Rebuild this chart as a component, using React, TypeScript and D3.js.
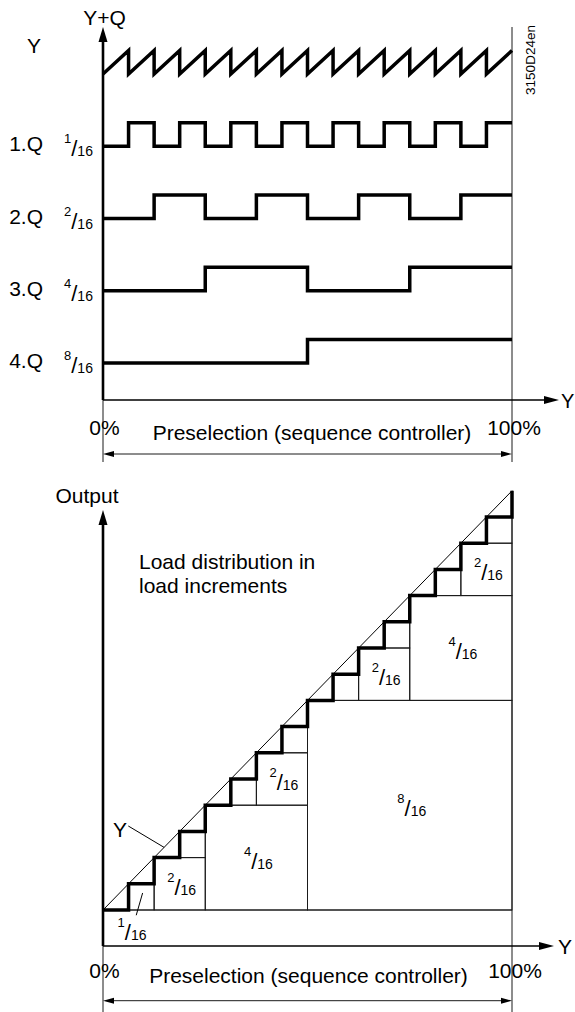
import React from 'react';
import * as d3 from 'd3';

// ---------- data ----------
const sixteenths = [0, 1, 2, 3, 4, 5, 6, 7, 8, 9, 10, 11, 12, 13, 14, 15];
const rowLabels = ['Y', '1.Q', '2.Q', '3.Q', '4.Q'];
const qNumerators = ['1', '2', '4', '8'];
const q1 = [0, 1, 0, 1, 0, 1, 0, 1, 0, 1, 0, 1, 0, 1, 0, 1];
const q2 = [0, 0, 1, 1, 0, 0, 1, 1, 0, 0, 1, 1, 0, 0, 1, 1];
const q3 = [0, 0, 0, 0, 1, 1, 1, 1, 0, 0, 0, 0, 1, 1, 1, 1];
const q4 = [0, 0, 0, 0, 0, 0, 0, 0, 1, 1, 1, 1, 1, 1, 1, 1];
const qSeries = [q1, q2, q3, q4];
const stairOutput = [0, 1, 2, 3, 4, 5, 6, 7, 8, 9, 10, 11, 12, 13, 14, 15];
const boxX = [8, 4, 12, 2, 6, 10, 14, 1, 3, 5, 7, 9, 11, 13, 15];
const boxY = [0, 0, 8, 0, 4, 8, 12, 0, 2, 4, 6, 8, 10, 12, 14];
const boxSize = [8, 4, 4, 2, 2, 2, 2, 1, 1, 1, 1, 1, 1, 1, 1];
const percentLabels = ['0%', '100%'];
const axisTitle = 'Preselection (sequence controller)';
const docCode = '3150D24en';

const FONT = '"Liberation Sans", Arial, Helvetica, sans-serif';

function Frac({ x, y, n, anchor = 'start' }: { x: number; y: number; n: string; anchor?: string }) {
  return (
    <text x={x} y={y} textAnchor={anchor} fontFamily={FONT} fill="#000">
      <tspan fontSize={13} dy={-13}>{n}</tspan>
      <tspan fontSize={22} dy={13}>/</tspan>
      <tspan fontSize={14} dy={0}>16</tspan>
    </text>
  );
}

function ArrowHead({ x, y, dir, len = 15, half = 4.5 }: { x: number; y: number; dir: 'up' | 'right' | 'left'; len?: number; half?: number }) {
  let pts: [number, number][];
  if (dir === 'up') pts = [[x, y], [x - half, y + len], [x + half, y + len]];
  else if (dir === 'right') pts = [[x, y], [x - len, y - half], [x - len, y + half]];
  else pts = [[x, y], [x + len, y - half], [x + len, y + half]];
  return <polygon points={pts.map((p) => p.join(',')).join(' ')} fill="#000" />;
}

export default function App() {
  const x = d3.scaleLinear().domain([0, 16]).range([103, 512]);
  const rowLow = d3.scaleLinear().domain([0, 4]).range([74, 363]);
  const amp = 23.5;
  const yB = d3.scaleLinear().domain([0, 16]).range([910, 490.8]);

  const stepLine = d3.line<[number, number]>().curve(d3.curveStepAfter);
  const linLine = d3.line<[number, number]>();

  // sawtooth (row 0)
  const sawPts: [number, number][] = [];
  sixteenths.forEach((k) => {
    sawPts.push([x(k), rowLow(0)]);
    sawPts.push([x(k + 1), rowLow(0) - amp]);
  });

  const qPaths = qSeries.map((q, i) => {
    const low = rowLow(i + 1);
    const pts: [number, number][] = sixteenths.map((k) => [x(k), low - q[k] * amp]);
    pts.push([x(16), low - q[15] * amp]);
    return stepLine(pts) as string;
  });

  const stairPts: [number, number][] = sixteenths.map((k) => [x(k), yB(stairOutput[k])]);
  stairPts.push([x(16), yB(16)]);

  const axisTopY = 400;
  const axisBotY = 946;
  const thin = '#1a1a1a';

  return (
    <svg width={575} height={1012} style={{ position: 'absolute', left: 0, top: 0, display: 'block', background: '#fff' }}>
      {/* ================= TOP PANEL ================= */}
      <line x1={x(16)} x2={x(16)} y1={27} y2={462} stroke={thin} strokeWidth={1} />
      <line x1={x(0)} x2={x(0)} y1={36} y2={axisTopY} stroke="#000" strokeWidth={2.6} />
      <line x1={x(0)} x2={x(0)} y1={axisTopY} y2={462} stroke={thin} strokeWidth={1} />
      <ArrowHead x={x(0)} y={27} dir="up" />
      <line x1={x(0)} x2={550} y1={axisTopY} y2={axisTopY} stroke="#000" strokeWidth={1.7} />
      <ArrowHead x={559} y={axisTopY} dir="right" half={4} />
      <text x={561} y={axisTopY + 8} fontSize={20} fontFamily={FONT}>Y</text>
      <text x={104.5} y={25} fontSize={21} fontFamily={FONT} textAnchor="middle">Y+Q</text>
      <text transform="translate(535,60) rotate(-90)" fontSize={13.5} fontFamily={FONT} textAnchor="middle">{docCode}</text>

      <text x={34} y={53} fontSize={21} fontFamily={FONT} textAnchor="middle">{rowLabels[0]}</text>
      {qNumerators.map((n, i) => (
        <g key={n}>
          <text x={43} y={rowLow(i + 1) + 5} fontSize={21} fontFamily={FONT} textAnchor="end">{rowLabels[i + 1]}</text>
          <Frac x={64} y={rowLow(i + 1) + 10} n={n} />
        </g>
      ))}

      <path d={linLine(sawPts) as string} fill="none" stroke="#000" strokeWidth={3.5} strokeLinejoin="miter" />
      {qPaths.map((d, i) => (
        <path key={i} d={d} fill="none" stroke="#000" strokeWidth={3.5} strokeLinejoin="miter" />
      ))}

      <text x={104.5} y={435} fontSize={21} fontFamily={FONT} textAnchor="middle">{percentLabels[0]}</text>
      <text x={514} y={435} fontSize={21} fontFamily={FONT} textAnchor="middle">{percentLabels[1]}</text>
      <text x={312} y={440} fontSize={21} fontFamily={FONT} textAnchor="middle">{axisTitle}</text>
      <line x1={x(0) + 8} x2={x(16) - 8} y1={454} y2={454} stroke={thin} strokeWidth={1} />
      <ArrowHead x={x(0)} y={454} dir="left" len={11} half={3} />
      <ArrowHead x={x(16)} y={454} dir="right" len={11} half={3} />

      {/* ================= BOTTOM PANEL ================= */}
      <text x={87} y={503} fontSize={21} fontFamily={FONT} textAnchor="middle">Output</text>
      <text x={139} y={569} fontSize={21} fontFamily={FONT}>Load distribution in</text>
      <text x={139} y={593} fontSize={21} fontFamily={FONT}>load increments</text>

      {boxX.map((bx, i) => (
        <rect
          key={i}
          x={x(bx)}
          y={yB(boxY[i] + boxSize[i])}
          width={x(bx + boxSize[i]) - x(bx)}
          height={yB(boxY[i]) - yB(boxY[i] + boxSize[i])}
          fill="none"
          stroke={thin}
          strokeWidth={1}
        />
      ))}
      {boxX.map((bx, i) =>
        boxSize[i] >= 2 ? (
          <Frac
            key={'l' + i}
            x={(x(bx) + x(bx + boxSize[i])) / 2 + 2}
            y={(yB(boxY[i]) + yB(boxY[i] + boxSize[i])) / 2 + 11}
            n={String(boxSize[i])}
            anchor="middle"
          />
        ) : null
      )}
      <line x1={x(0)} x2={x(16)} y1={yB(0)} y2={yB(0)} stroke={thin} strokeWidth={1} />
      <line x1={x(16)} x2={x(16)} y1={yB(16)} y2={1012} stroke={thin} strokeWidth={1} />

      <line x1={x(0)} y1={yB(0)} x2={x(16)} y2={yB(16)} stroke="#000" strokeWidth={1} />
      <path d={stepLine(stairPts) as string} fill="none" stroke="#000" strokeWidth={3.5} strokeLinejoin="miter" />

      <text x={120} y={837} fontSize={21} fontFamily={FONT} textAnchor="middle">Y</text>
      <line x1={128.3} y1={826} x2={x(2.39)} y2={yB(2.39)} stroke="#000" strokeWidth={1} />
      <line x1={x(1.55)} y1={yB(0.65)} x2={x(1.3)} y2={yB(-0.2)} stroke="#000" strokeWidth={1} />
      <Frac x={132} y={940} n="1" anchor="middle" />

      <line x1={x(0)} x2={x(0)} y1={519} y2={axisBotY} stroke="#000" strokeWidth={2.6} />
      <ArrowHead x={x(0)} y={510} dir="up" />
      <line x1={x(0)} x2={x(0)} y1={axisBotY} y2={1012} stroke={thin} strokeWidth={1} />
      <line x1={x(0)} x2={545} y1={axisBotY} y2={axisBotY} stroke="#000" strokeWidth={1.7} />
      <ArrowHead x={554} y={axisBotY} dir="right" half={4} />
      <text x={558} y={axisBotY + 8} fontSize={21} fontFamily={FONT}>Y</text>

      <text x={104.5} y={978} fontSize={21} fontFamily={FONT} textAnchor="middle">{percentLabels[0]}</text>
      <text x={515} y={978} fontSize={21} fontFamily={FONT} textAnchor="middle">{percentLabels[1]}</text>
      <text x={308.5} y={983} fontSize={21} fontFamily={FONT} textAnchor="middle">{axisTitle}</text>
      <line x1={x(0) + 8} x2={x(16) - 8} y1={1000.7} y2={1000.7} stroke={thin} strokeWidth={1} />
      <ArrowHead x={x(0)} y={1000.7} dir="left" len={11} half={3} />
      <ArrowHead x={x(16)} y={1000.7} dir="right" len={11} half={3} />
    </svg>
  );
}
